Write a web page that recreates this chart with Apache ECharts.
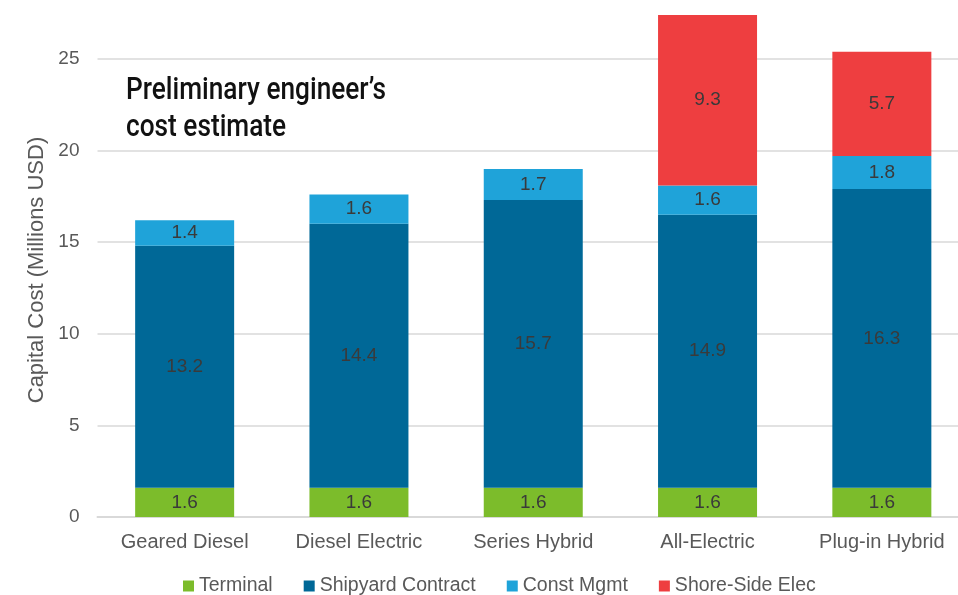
<!DOCTYPE html>
<html><head><meta charset="utf-8">
<script src="https://cdn.jsdelivr.net/npm/echarts@6/dist/echarts.min.js"></script>
<style>html,body{margin:0;padding:0;background:#fff;overflow:hidden;width:958px;height:595px}#c{width:969px;height:595px}</style>
</head><body><div id="c"></div>
<script>
const categories = ['Geared Diesel', 'Diesel Electric', 'Series Hybrid', 'All-Electric', 'Plug-in Hybrid'];
const terminal = [1.6, 1.6, 1.6, 1.6, 1.6];
const shipyardContract = [13.2, 14.4, 15.7, 14.9, 16.3];
const constMgmt = [1.4, 1.6, 1.7, 1.6, 1.8];
const shoreSideElec = [null, null, null, 9.3, 5.7];
const yTicks = [0, 5, 10, 15, 20, 25];

const FF = '"Liberation Sans", Arial, sans-serif';
const titleFont = '500 31px Roboto, "DejaVu Sans Condensed", sans-serif';
const ctx = document.createElement('canvas').getContext('2d');
ctx.font = titleFont;
const titleScale = 260 / ctx.measureText('Preliminary engineer\u2019s').width;

const chart = echarts.init(document.getElementById('c'));
const lbl = {show: true, position: 'inside', color: '#3a3a3a', fontSize: 19, fontFamily: FF,
  formatter: p => p.value == null ? '' : p.value.toFixed(1)};
function s(name, data, color) {
  return {name, type: 'bar', stack: 'total', data, barWidth: 99, itemStyle: {color}, label: lbl, emphasis: {disabled: true}};
}
chart.setOption({
  animation: false,
  grid: {left: 97.5, right: 0, top: 4, bottom: 78, containLabel: false},
  legend: {top: 571, left: 178, itemWidth: 11, itemHeight: 11, itemGap: 31, icon: 'rect',
    textStyle: {color: '#595959', fontSize: 19.5, fontFamily: FF},
    data: ['Terminal', 'Shipyard Contract', 'Const Mgmt', 'Shore-Side Elec']},
  xAxis: {type: 'category', data: categories,
    axisLine: {lineStyle: {color: '#d9d9d9', width: 2}}, axisTick: {show: false},
    axisLabel: {color: '#595959', fontSize: 20, margin: 15, fontFamily: FF}},
  yAxis: {type: 'value', min: 0, max: 28, interval: 5,
    axisLine: {show: false}, axisTick: {show: false},
    axisLabel: {color: '#595959', fontSize: 19, margin: 18, showMaxLabel: false, fontFamily: FF,
      formatter: v => yTicks.includes(v) ? String(v) : ''},
    splitLine: {lineStyle: {color: '#d9d9d9', width: 1.5}, showMaxLine: false}},
  graphic: [
    {type: 'text', x: 126, y: 73, scaleX: titleScale, style: {text: 'Preliminary engineer\u2019s\ncost estimate', fill: '#111',
      font: titleFont, lineHeight: 37}},
    {type: 'text', x: 37, y: 270, rotation: Math.PI / 2, style: {text: 'Capital Cost (Millions USD)', fill: '#595959',
      font: '22px ' + FF, align: 'center', verticalAlign: 'middle'}}
  ],
  series: [
    s('Terminal', terminal, '#7cbc2b'),
    s('Shipyard Contract', shipyardContract, '#006897'),
    s('Const Mgmt', constMgmt, '#1fa3d9'),
    s('Shore-Side Elec', shoreSideElec, '#ee3e40')
  ]
});
</script></body></html>
